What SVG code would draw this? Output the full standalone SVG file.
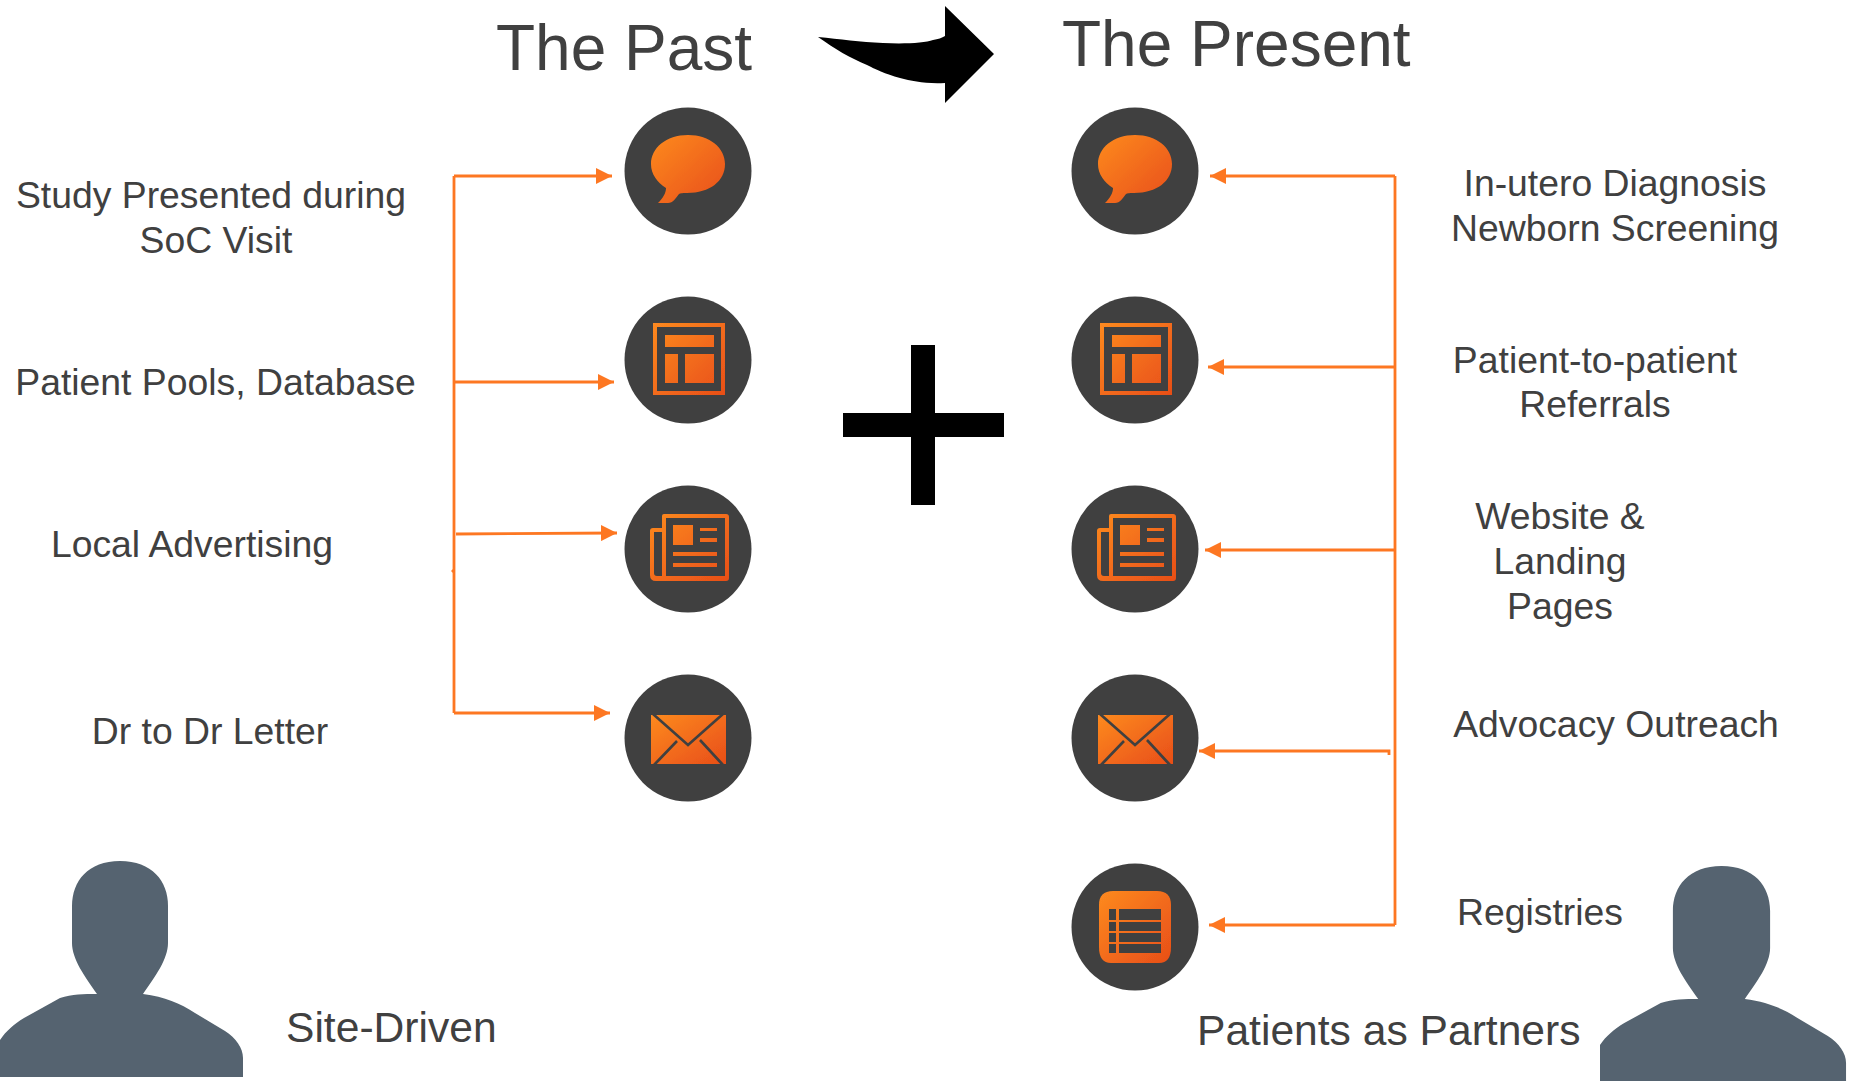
<svg xmlns="http://www.w3.org/2000/svg" width="1849" height="1081" viewBox="0 0 1849 1081">
<style>
text{font-family:"Liberation Sans",Arial,sans-serif;fill:#404040;font-size:37.35px}
.h{font-size:64px}
.b{font-size:42.6px}
.c{text-anchor:middle}
.bg{fill:#404040}
.o{fill:url(#g)}
.cut{fill:#404040}
.ln{fill:none;stroke:#fd7722;stroke-width:2.8}
.p{fill:#54636f}
.s{filter:url(#soft)}
</style>
<defs>
<linearGradient id="g" x1="0" y1="0" x2="1" y2="1"><stop offset="0" stop-color="#fd8a20"/><stop offset="1" stop-color="#e84e18"/></linearGradient>
<filter id="soft" x="-10%" y="-10%" width="120%" height="120%"><feGaussianBlur stdDeviation="0.6"/></filter>
<marker id="a" viewBox="0 0 16 16" refX="16" refY="8" markerWidth="16" markerHeight="16" markerUnits="userSpaceOnUse" orient="auto"><path d="M0 0L16 8L0 16Z" fill="#fd7722"/></marker>
<path id="person" class="p s" d="M120 0C152 0 168 20 168 45V82C168 98 155 116 143 133C165 136 180 142 195 152L225 170C236 177 243 187 243 197V240H0V179C6 170 14 163 24 157L60 137C72 133 84 133 97 133C85 116 72 98 72 82V45C72 20 88 0 120 0Z"/>
<g id="i-bubble"><circle class="bg" r="63.5"/><path class="o s" d="M0 -36C22 -36 37 -23 37 -7C37 10 22 22 -1 22C-4 22 -8 22 -9 23C-12 27 -15 32 -20 32H-30C-25 27 -22 22 -22 17C-31 11 -37 3 -37 -7C-37 -23 -22 -36 0 -36Z"/></g>
<path id="i-layout" class="o s" fill-rule="evenodd" d="M-35 -37H37V35H-35ZM-31 -33V31H33V-33ZM-23 -25H26V-13H-23ZM-23 -6H-10V23H-23ZM-3 -6H26V23H-3Z"/>
<path id="i-news" class="o s" fill-rule="evenodd" d="M-24 -35H38Q41 -35 41 -32V29Q41 32 38 32H-32Q-38 32 -38 26V-18Q-38 -21 -35 -21H-26V-33Q-26 -35 -24 -35ZM-22 -31V27H37V-31ZM-26 -17H-34V24Q-34 27 -31 27H-26ZM-15 -24H5V-4H-15ZM12 -21H29V-18H12ZM12 -11H29V-7H12ZM-15 3H29V7H-15ZM-15 14H29V18H-15Z"/>
<g id="i-mail" class="s"><path class="o" d="M-37 -23H38V26H-37Z"/><path d="M-35 -24L0 7L35 -24M-34 27L-11 3M35 27L12 2" fill="none" stroke="#404040" stroke-width="2.6"/></g>
</defs>
<g id="title-past"><text class="h" x="496" y="70">The Past</text></g>
<g id="title-present"><text class="h" x="1062" y="66">The Present</text></g>
<g id="curved-arrow"><path d="M818 37C840 39 860 42 883 43C905 44 925 43 933 40C938 39 942 38 945 36V6L994 54L945 103V83C925 84 912 81 900 78C885 74 875 69 867 65C850 58 835 49 818 37Z" fill="#000"/></g>
<g id="plus"><path d="M911 345H935V413H1004V437H935V505H911V437H843V413H911Z" fill="#000"/></g>
<g id="connectors">
<path class="ln" d="M454 176V713"/>
<path class="ln" marker-end="url(#a)" d="M454 176H612"/>
<path class="ln" marker-end="url(#a)" d="M454 382H614"/>
<path class="ln" marker-end="url(#a)" d="M456 534L617 533"/>
<path class="ln" d="M454 570L452 572"/>
<path class="ln" marker-end="url(#a)" d="M454 713H610"/>
<path class="ln" d="M1395 176V925"/>
<path class="ln" marker-end="url(#a)" d="M1395 176H1210"/>
<path class="ln" marker-end="url(#a)" d="M1395 367H1208"/>
<path class="ln" marker-end="url(#a)" d="M1395 550H1205"/>
<path class="ln" marker-end="url(#a)" d="M1389 755V751H1199"/>
<path class="ln" marker-end="url(#a)" d="M1395 925H1209"/>
</g>
<g id="past-1"><use href="#i-bubble" x="688" y="171"/></g>
<g id="present-1"><use href="#i-bubble" x="1135" y="171"/></g>
<g id="past-2" transform="translate(688 360)"><circle class="bg" r="63.5"/><use href="#i-layout"/></g>
<g id="present-2" transform="translate(1135 360)"><circle class="bg" r="63.5"/><use href="#i-layout"/></g>
<g id="past-3" transform="translate(688 549)"><circle class="bg" r="63.5"/><use href="#i-news"/></g>
<g id="present-3" transform="translate(1135 549)"><circle class="bg" r="63.5"/><use href="#i-news"/></g>
<g id="past-4" transform="translate(688 738)"><circle class="bg" r="63.5"/><use href="#i-mail"/></g>
<g id="present-4" transform="translate(1135 738)"><circle class="bg" r="63.5"/><use href="#i-mail"/></g>
<g id="present-5" transform="translate(1135 927)"><circle class="bg" r="63.5"/><g class="s"><path class="o" d="M-22 -36H22Q36 -36 36 -22V20Q36 36 24 36H-24Q-36 36 -36 20V-22Q-36 -36 -22 -36Z"/><path class="cut" d="M-26 -18H-19V-7H-26ZM-16 -18H26V-7H-16ZM-26 -5H-19V4H-26ZM-16 -5H26V4H-16ZM-26 6H-19V15H-26ZM-16 6H26V15H-16ZM-26 17H-19V26H-26ZM-16 17H26V26H-16Z"/></g></g>
<g id="label-study"><text class="c" x="211" y="208">Study Presented during</text><text class="c" x="216" y="253">SoC Visit</text></g>
<g id="label-pools"><text class="c" x="215.500" y="395">Patient Pools, Database</text></g>
<g id="label-local"><text class="c" x="192" y="557">Local Advertising</text></g>
<g id="label-letter"><text class="c" x="210" y="743.500">Dr to Dr Letter</text></g>
<g id="label-utero"><text class="c" x="1615" y="196">In-utero Diagnosis</text><text class="c" x="1615" y="241">Newborn Screening</text></g>
<g id="label-referrals"><text class="c" x="1595" y="373">Patient-to-patient</text><text class="c" x="1595" y="417">Referrals</text></g>
<g id="label-website"><text class="c" x="1560" y="528.500">Website &amp;</text><text class="c" x="1560" y="573.500">Landing</text><text class="c" x="1560" y="618.500">Pages</text></g>
<g id="label-advocacy"><text class="c" x="1616" y="737">Advocacy Outreach</text></g>
<g id="label-registries"><text class="c" x="1540" y="924.500">Registries</text></g>
<g id="label-site"><text class="b" x="286" y="1042">Site-Driven</text></g>
<g id="label-patients"><text class="b" x="1197" y="1045">Patients as Partners</text></g>
<g id="person-left"><use href="#person" x="0" y="861"/><rect x="0" y="1077" width="250" height="4" fill="#fff"/></g>
<g id="person-right"><use href="#person" transform="translate(1600 866) scale(1.0125 1)"/></g>
</svg>
